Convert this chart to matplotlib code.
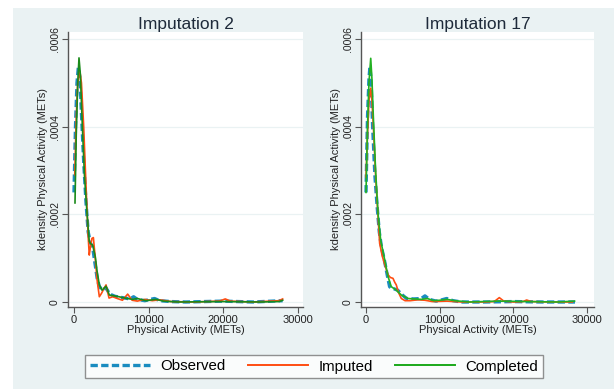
import matplotlib
matplotlib.use("Agg")
import matplotlib.pyplot as plt
from matplotlib.lines import Line2D
from matplotlib.patches import Rectangle

plt.rcParams['font.family'] = ['Liberation Sans', 'DejaVu Sans']

# ---------------- data (density values in units of 1e-4) ----------------
titles = ["Imputation 2", "Imputation 17"]
series_names = ["Observed", "Imputed", "Completed"]

obs1_x = [0, 200, 400, 580, 800, 1000, 1300, 1600, 1900, 2200, 2500, 2800, 3100, 3400, 3800,
          4300, 4800, 5500, 6500, 7500, 8000, 8500, 9500, 10800, 11500, 13000, 15000, 20000, 24000, 28000]
obs1_y = [2.5, 4.0, 5.0, 5.35, 5.1, 4.3, 3.2, 2.3, 1.6, 1.35, 1.25, 0.9, 0.55, 0.35, 0.28,
          0.32, 0.18, 0.13, 0.1, 0.07, 0.12, 0.06, 0.03, 0.08, 0.03, 0.01, 0.0, 0.02, 0.0, 0.03]

imp1_x = [100, 300, 500, 800, 1000, 1300, 1600, 1900, 2050, 2200, 2400, 2600, 2800, 3100, 3400,
          3700, 4000, 4300, 4700, 5200, 5800, 6500, 7200, 7800, 8500, 9500, 10500, 11500, 13000,
          16000, 19500, 20300, 21000, 24000, 27500, 28000]
imp1_y = [2.9, 4.2, 5.0, 5.25, 5.0, 4.0, 2.7, 1.5, 1.07, 1.25, 1.45, 1.47, 1.1, 0.5, 0.12,
          0.2, 0.3, 0.39, 0.09, 0.12, 0.08, 0.04, 0.18, 0.04, 0.02, 0.06, 0.03, 0.05, 0.01,
          0.0, 0.02, 0.07, 0.02, 0.0, 0.03, 0.07]

comp1_x = [134, 300, 500, 670, 850, 1100, 1400, 1745, 2050, 2300, 2500, 2860, 3100, 3400, 3760,
           4300, 4740, 5400, 6040, 6800, 7870, 8500, 9660, 11000, 12000, 14000, 20000, 25000, 27500, 28000]
comp1_y = [2.26, 3.8, 5.0, 5.57, 5.2, 4.1, 2.9, 2.03, 1.38, 1.32, 1.30, 1.03, 0.7, 0.39, 0.27,
           0.36, 0.16, 0.14, 0.12, 0.09, 0.06, 0.08, 0.03, 0.06, 0.02, 0.0, 0.01, 0.0, 0.01, 0.04]

obs2_x = [0, 200, 400, 540, 700, 900, 1200, 1500, 1800, 2100, 2500, 2900, 3200, 3430, 3800,
          4300, 4800, 5500, 6500, 7500, 8000, 8600, 9500, 10300, 10950, 11800, 13000, 16000,
          20000, 24000, 28360]
obs2_y = [2.5, 4.2, 5.1, 5.37, 5.0, 4.0, 2.9, 2.2, 1.6, 1.25, 0.95, 0.6, 0.35, 0.31, 0.3,
          0.27, 0.18, 0.08, 0.07, 0.08, 0.14, 0.06, 0.02, 0.05, 0.08, 0.03, 0.0, 0.0,
          0.01, 0.0, 0.0]

imp2_x = [0, 200, 400, 640, 800, 1000, 1300, 1600, 1850, 2200, 2600, 3000, 3300, 3660, 3900,
          4110, 4400, 4790, 5300, 6000, 7000, 8000, 9000, 11000, 13000, 16000, 17400, 18090,
          18700, 20000, 21300, 21800, 22400, 25000, 28000]
imp2_y = [2.85, 3.8, 4.6, 4.88, 4.6, 4.0, 2.9, 2.05, 1.34, 1.05, 0.82, 0.62, 0.56, 0.54, 0.45,
          0.39, 0.22, 0.08, 0.03, 0.03, 0.05, 0.04, 0.01, 0.02, 0.0, 0.0, 0.01, 0.10,
          0.02, 0.0, 0.01, 0.045, 0.01, 0.0, 0.0]

comp2_x = [0, 200, 400, 640, 800, 1000, 1300, 1630, 1990, 2540, 2990, 3430, 4110, 4790, 5700,
           6500, 7500, 8300, 9200, 10000, 11000, 12000, 14000, 18000, 22000, 26000, 28300]
comp2_y = [2.5, 4.0, 5.0, 5.56, 5.1, 4.2, 3.0, 2.02, 1.41, 0.96, 0.58, 0.35, 0.27, 0.16, 0.08,
           0.07, 0.06, 0.08, 0.03, 0.04, 0.06, 0.03, 0.0, 0.02, 0.01, 0.0, 0.02]

y_ticks = [0, 0.0002, 0.0004, 0.0006]
y_ticklabels = ["0", ".0002", ".0004", ".0006"]
x_ticks = [0, 10000, 20000, 30000]
x_ticklabels = ["0", "10000", "20000", "30000"]

panels = [
    (obs1_x, obs1_y, imp1_x, imp1_y, comp1_x, comp1_y),
    (obs2_x, obs2_y, imp2_x, imp2_y, comp2_x, comp2_y),
]

# ---------------- styles ----------------
BG = "#EAF2F3"
C_OBS = "#1a8cc0"
C_IMP = "#ff4d12"
C_COMP = ["#1a8a1a", "#22b022"]
C_LEG_COMP = "#1aa81a"
SPINE = "#555555"

fig = plt.figure(figsize=(6.14, 3.89), dpi=100, facecolor="white")
W, H = 614, 389
fig.patches.append(Rectangle((13 / W, 0), 1 - 13 / W, 1 - 8 / H, transform=fig.transFigure,
                             facecolor=BG, edgecolor="none", zorder=-10))

axes_px = [(68, 303), (361, 594)]
top_px, bot_px = 32, 307
xlims = [(-805, 30730), (-680, 30940)]
ylim = (-0.0000114, 0.000616)

for i, (ox, oy, ix, iy, cx, cy) in enumerate(panels):
    l, r = axes_px[i]
    ax = fig.add_axes([l / W, 1 - bot_px / H, (r - l) / W, (bot_px - top_px) / H])
    ax.set_facecolor("white")
    for yt in y_ticks:
        ax.axhline(yt, color=BG, lw=0.9, zorder=0)
    ax.plot(ox, [v * 1e-4 for v in oy], color=C_OBS, lw=2.4, dashes=(2.2, 1.0), zorder=2)
    ax.plot(ix, [v * 1e-4 for v in iy], color=C_IMP, lw=1.2, zorder=3)
    ax.plot(cx, [v * 1e-4 for v in cy], color=C_COMP[i], lw=1.2, zorder=4)
    ax.set_xlim(*xlims[i])
    ax.set_ylim(*ylim)
    ax.set_yticks(y_ticks)
    ax.set_yticklabels(y_ticklabels, rotation=90, va="center", fontsize=7.5, color="#222222")
    ax.set_xticks(x_ticks)
    ax.set_xticklabels(x_ticklabels, fontsize=8, color="#222222")
    for s in ["top", "right"]:
        ax.spines[s].set_visible(False)
    for s in ["left", "bottom"]:
        ax.spines[s].set_color(SPINE)
        ax.spines[s].set_linewidth(1.0)
    ax.tick_params(axis="both", length=4, width=0.8, color=SPINE, pad=2)
    ax.set_xlabel("Physical Activity (METs)", fontsize=8, color="#222222", labelpad=0)
    ax.set_ylabel("kdensity Physical Activity (METs)", fontsize=8, color="#222222", labelpad=1)
    ax.set_title(titles[i], fontsize=12.5, color="#1e2a3a", pad=2)

handles = [
    Line2D([], [], color=C_OBS, lw=2.4, dashes=(2.2, 1.0)),
    Line2D([], [], color=C_IMP, lw=1.4),
    Line2D([], [], color=C_LEG_COMP, lw=1.4),
]
leg = fig.legend(handles, series_names, loc="center", bbox_to_anchor=(314 / W, 1 - 366.5 / H),
                 ncol=3, fontsize=10.8, frameon=True, fancybox=False, handlelength=4.0,
                 handletextpad=0.7, columnspacing=1.5, borderpad=0.3)
leg.get_frame().set_edgecolor("#777777")
leg.get_frame().set_linewidth(1.0)
leg.get_frame().set_facecolor("white")

fig.savefig("out.png", dpi=100, facecolor=fig.get_facecolor())
